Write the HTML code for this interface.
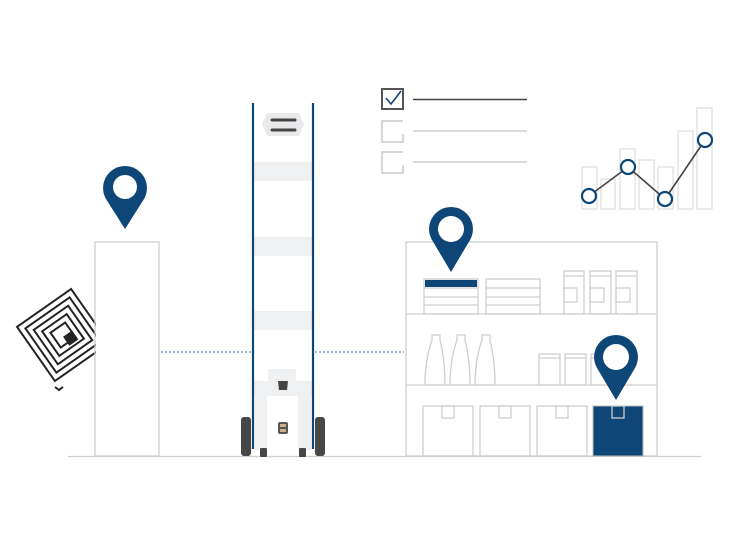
<!DOCTYPE html><html><head><style>body{margin:0;background:#fff}svg{display:block}</style></head><body>
<svg width="730" height="546" viewBox="0 0 730 546" xmlns="http://www.w3.org/2000/svg">
<g fill="none" stroke="#222" stroke-width="2" transform="rotate(-35 63 335)">
<rect x="30" y="302" width="66" height="66"/><rect x="36" y="308" width="54" height="54"/><rect x="42" y="314" width="42" height="42"/><rect x="48" y="320" width="30" height="30"/><rect x="54" y="326" width="18" height="18"/>
</g>
<rect x="65" y="333" width="11" height="11" fill="#222" transform="rotate(-35 70 338)"/>
<path d="M55 387l4 3 4-3" fill="none" stroke="#222" stroke-width="2"/>
<rect x="96" y="250" width="40" height="160" fill="#fff"/>
<g fill="none" stroke="#cfcfcf" stroke-width="1.3">
<line x1="68" y1="456.5" x2="701" y2="456.5"/>
<rect x="95" y="242" width="64" height="214"/>
<rect x="406" y="242" width="251" height="214"/>
<line x1="406" y1="314" x2="657" y2="314"/>
<line x1="406" y1="385" x2="657" y2="385"/>
<rect x="424" y="279" width="54" height="35"/><line x1="424" y1="288" x2="478" y2="288"/><line x1="424" y1="297" x2="478" y2="297"/><line x1="424" y1="305" x2="478" y2="305"/>
<rect x="486" y="279" width="54" height="35"/><line x1="486" y1="288" x2="540" y2="288"/><line x1="486" y1="297" x2="540" y2="297"/><line x1="486" y1="305" x2="540" y2="305"/>
<rect x="564" y="271" width="20" height="43"/><line x1="564" y1="276" x2="584" y2="276"/><rect x="564" y="288" width="13" height="14"/>
<rect x="590" y="271" width="21" height="43"/><line x1="590" y1="276" x2="611" y2="276"/><rect x="590" y="288" width="14" height="14"/>
<rect x="616" y="271" width="21" height="43"/><line x1="616" y1="276" x2="637" y2="276"/><rect x="616" y="288" width="14" height="14"/>
<path d="M432 335h8v5q5 20 5 45h-20q0-25 7-45z"/><path d="M457 335h8v5q5 20 5 45h-20q0-25 7-45z"/><path d="M482 335h8v5q5 20 5 45h-20q0-25 7-45z"/>
<rect x="539" y="354" width="21" height="31"/><line x1="539" y1="358" x2="560" y2="358"/>
<rect x="565" y="354" width="21" height="31"/><line x1="565" y1="358" x2="586" y2="358"/>
<rect x="591" y="354" width="21" height="31"/><line x1="591" y1="358" x2="612" y2="358"/>
<rect x="423" y="406" width="50" height="50"/><rect x="442" y="406" width="12" height="12"/>
<rect x="480" y="406" width="50" height="50"/><rect x="499" y="406" width="12" height="12"/>
<rect x="537" y="406" width="50" height="50"/><rect x="556" y="406" width="12" height="12"/>
</g>
<rect x="593" y="406" width="50" height="50" fill="#0d4677" stroke="#bbb"/><rect x="612" y="406" width="12" height="12" fill="none" stroke="#ccc" stroke-width="1.3"/>
<rect x="425" y="280" width="52" height="7" fill="#0d4677"/>
<g stroke="#3f6fa8" stroke-dasharray="2 2" stroke-width="1"><line x1="161" y1="352" x2="251" y2="352"/><line x1="315" y1="352" x2="404" y2="352"/></g>
<g fill="#eff0f1"><rect x="254" y="162" width="58" height="19"/><rect x="254" y="237" width="58" height="19"/><rect x="254" y="311" width="58" height="19"/><rect x="254" y="381" width="58" height="15"/><rect x="268" y="369" width="28" height="12"/><rect x="255" y="396" width="12" height="54"/><rect x="298" y="396" width="13" height="54"/></g>
<path d="M267 113h32l5 11-5 12h-32l-5-12z" fill="#e8e9ea"/>
<g stroke="#444" stroke-width="3" stroke-linecap="round"><line x1="272" y1="120" x2="295" y2="120"/><line x1="272" y1="130" x2="295" y2="130"/></g>
<path d="M278 381h10l-1 9h-8z" fill="#444"/>
<rect x="278" y="422" width="10" height="12" rx="2" fill="#555"/><rect x="280" y="424" width="6" height="3" fill="#c8b08a"/><rect x="280" y="429" width="6" height="3" fill="#c8b08a"/>
<g stroke="#0d4677" stroke-width="2.2"><line x1="253" y1="103" x2="253" y2="449"/><line x1="313" y1="103" x2="313" y2="449"/></g>
<g fill="#474747"><rect x="241" y="417" width="10" height="39" rx="3"/><rect x="315" y="417" width="10" height="39" rx="3"/><rect x="260" y="448" width="7" height="9" rx="1"/><rect x="299" y="448" width="7" height="9" rx="1"/></g>
<rect x="382" y="89" width="21" height="20" fill="none" stroke="#555" stroke-width="2"/>
<path d="M386 98l5 6 10-13" fill="none" stroke="#0d4677" stroke-width="1.6"/>
<line x1="413" y1="99.5" x2="527" y2="99.5" stroke="#444" stroke-width="1.5"/>
<path d="M403 121h-21v21h21v-8" fill="none" stroke="#d6d6d6" stroke-width="2"/>
<path d="M403 152h-21v21h21v-8" fill="none" stroke="#d6d6d6" stroke-width="2"/>
<line x1="413" y1="131" x2="527" y2="131" stroke="#d0d0d0" stroke-width="1.5"/>
<line x1="413" y1="162" x2="527" y2="162" stroke="#d0d0d0" stroke-width="1.5"/>
<g fill="none" stroke="#e3e3e3" stroke-width="1.5"><rect x="582" y="167" width="15" height="42"/><rect x="601" y="179" width="14" height="30"/><rect x="620" y="149" width="15" height="60"/><rect x="639" y="160" width="15" height="49"/><rect x="658" y="167" width="15" height="42"/><rect x="678" y="131" width="15" height="78"/><rect x="697" y="108" width="15" height="101"/></g>
<polyline points="589,196 628,167 665,199 705,140" fill="none" stroke="#444" stroke-width="1.6"/>
<g fill="#fff" stroke="#0d4677" stroke-width="2.2"><circle cx="589" cy="196" r="7"/><circle cx="628" cy="167" r="7"/><circle cx="665" cy="199" r="7"/><circle cx="705" cy="140" r="7"/></g>
<g fill="#0d4677">
<path d="M125 166a22 22 0 0 1 19 33l-19 30-19-30a22 22 0 0 1 19-33z"/>
<path d="M451 207a22 22 0 0 1 19 33l-19 32-19-32a22 22 0 0 1 19-33z"/>
<path d="M616 335a22 22 0 0 1 19 33l-19 32-19-32a22 22 0 0 1 19-33z"/>
</g>
<g fill="#fff"><circle cx="125" cy="187" r="12"/><circle cx="451" cy="229" r="13"/><circle cx="616" cy="357" r="13"/></g>
</svg>
</body></html>
